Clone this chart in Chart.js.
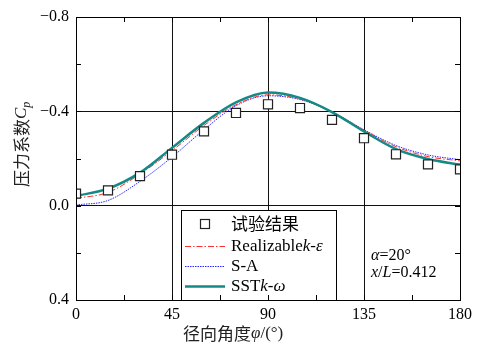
<!DOCTYPE html>
<html><head><meta charset="utf-8">
<script src="https://cdn.jsdelivr.net/npm/chart.js@4/dist/chart.umd.min.js"></script>
<style>html,body{margin:0;padding:0;background:#fff}#wrap{width:478px;height:345px}</style>
</head><body><div id="wrap"><canvas id="c" width="478" height="345"></canvas></div>
<script>
const angles = [0,15,30,45,60,75,90,105,120,135,150,165,180];
const expCp = [-0.051,-0.065,-0.125,-0.216,-0.315,-0.393,-0.430,-0.414,-0.364,-0.286,-0.218,-0.175,-0.154];
const sstCp = [-0.041,-0.072,-0.140,-0.245,-0.351,-0.438,-0.480,-0.457,-0.397,-0.315,-0.240,-0.198,-0.174];
const realizableCp = [-0.031,-0.056,-0.134,-0.233,-0.340,-0.428,-0.470,-0.452,-0.397,-0.320,-0.250,-0.208,-0.190];
const saCp = [-0.003,-0.022,-0.103,-0.206,-0.322,-0.424,-0.466,-0.450,-0.398,-0.322,-0.255,-0.215,-0.195];
const xTickLabels = [0,45,90,135,180];
const xMinorTicks = [22.5,67.5,112.5,157.5];
const yTickLabels = [-0.8,-0.4,0,0.4];
const yMinorTicks = [-0.6,-0.2,0.2];
const seriesNames = ['试验结果','SST','Realizable','S-A'];

const SERIF = '"Liberation Serif","Times New Roman",serif';
const CJK = '"Noto Sans CJK SC",sans-serif';
const pts = (ys) => angles.map((a,i)=>({x:a,y:ys[i]}));

function fmtY(v){
  if (Math.abs(v) < 1e-9) return '0.0';
  return (v<0?'\u2212':'') + Math.abs(v).toFixed(1);
}
function drawRich(ctx, parts, x, y){
  let cx = x;
  for (const p of parts){
    ctx.font = p.f;
    ctx.fillText(p.t, cx, y + (p.dy||0));
    cx += ctx.measureText(p.t).width + (p.sp||0);
  }
  return cx;
}

const deco = {
  id:'deco',
  afterDatasetsDraw(chart){
    const ctx = chart.ctx, a = chart.chartArea;
    const xs = chart.scales.x, ys = chart.scales.y;
    const ds = chart.data.datasets;
    ctx.save();
    // legend box
    const lx = 181, ly = 210, lw = 155, lh = a.bottom - 210;
    ctx.fillStyle = '#fff';
    ctx.fillRect(lx, ly, lw, lh);
    ctx.strokeStyle = '#000'; ctx.lineWidth = 1;
    ctx.strokeRect(lx+0.5, ly+0.5, lw, lh);
    ctx.textBaseline = 'middle'; ctx.fillStyle = '#000';
    // entry 1: square
    ctx.strokeStyle = ds[0].borderColor; ctx.lineWidth = 1.2;
    ctx.fillStyle = '#fff';
    ctx.fillRect(200.5, 219.5, 9, 9); ctx.strokeRect(200.5, 219.5, 9, 9);
    ctx.fillStyle = '#000';
    ctx.font = '17px ' + CJK;
    ctx.fillText(seriesNames[0], 231, 224);
    const rows = [[2,246.5],[3,266.5],[1,286.5]];
    for (const [i,y] of rows){
      ctx.strokeStyle = ds[i].borderColor; ctx.lineWidth = ds[i].borderWidth;
      ctx.setLineDash(ds[i].borderDash || []);
      ctx.beginPath(); ctx.moveTo(185, y); ctx.lineTo(225, y); ctx.stroke();
    }
    ctx.setLineDash([]);
    ctx.fillStyle = '#000';
    const nf = '17px ' + SERIF, itf = 'italic 17px ' + SERIF;
    drawRich(ctx, [{t:'Realizable',f:nf},{t:'k-\u03b5',f:itf}], 231, 247);
    drawRich(ctx, [{t:'S-A',f:nf}], 231, 267);
    drawRich(ctx, [{t:'SST',f:nf},{t:'k-\u03c9',f:itf}], 231, 287);
    // annotation
    const af = '16px ' + SERIF, aif = 'italic 16px ' + SERIF;
    drawRich(ctx, [{t:'\u03b1',f:aif},{t:'=20\u00b0',f:af}], 371, 256);
    drawRich(ctx, [{t:'x',f:aif},{t:'/',f:af},{t:'L',f:aif},{t:'=0.412',f:af}], 371, 273);
    // ticks inward
    ctx.strokeStyle = '#000'; ctx.lineWidth = 1;
    ctx.beginPath();
    for (const v of xMinorTicks.concat(xTickLabels)){
      const px = Math.round(xs.getPixelForValue(v)) + 0.5;
      ctx.moveTo(px, a.bottom); ctx.lineTo(px, a.bottom - 5);
      ctx.moveTo(px, a.top); ctx.lineTo(px, a.top + 5);
    }
    for (const v of yMinorTicks.concat(yTickLabels)){
      const py = Math.round(ys.getPixelForValue(v)) + 0.5;
      ctx.moveTo(a.left, py); ctx.lineTo(a.left + 5, py);
      ctx.moveTo(a.right, py); ctx.lineTo(a.right - 5, py);
    }
    ctx.stroke();
    ctx.strokeRect(Math.round(a.left)+0.5, Math.round(a.top)+0.5, Math.round(a.right-a.left), Math.round(a.bottom-a.top));
    // axis titles
    ctx.fillStyle = '#222';
    ctx.textBaseline = 'middle';
    ctx.save();
    ctx.translate(22, 187);
    ctx.rotate(-Math.PI/2);
    const e = drawRich(ctx, [{t:'压力系数',f:'17px '+CJK},{t:'C',f:'italic 17px '+SERIF}], 0, 0);
    ctx.font = 'italic 12px ' + SERIF; ctx.fillText('p', e, 5);
    ctx.restore();
    drawRich(ctx, [{t:'径向角度',f:'17px '+CJK},{t:'\u03c6',f:'italic 17px '+SERIF},{t:'/(\u00b0)',f:'17px '+SERIF}], 183, 334);
    ctx.restore();
  }
};

new Chart(document.getElementById('c'), {
  type:'line',
  data:{datasets:[
    {label:seriesNames[0], data:pts(expCp), showLine:false, pointStyle:'rect', pointRadius:6.4, pointBorderWidth:1.2,
     borderColor:'#222', pointBackgroundColor:'#fff', backgroundColor:'#fff'},
    {label:seriesNames[1], data:pts(sstCp), borderColor:'#138a86', borderWidth:2.5, pointRadius:0, cubicInterpolationMode:'monotone'},
    {label:seriesNames[2], data:pts(realizableCp), borderColor:'#ff3030', borderWidth:1, borderDash:[6,2,1.5,2], pointRadius:0, cubicInterpolationMode:'monotone'},
    {label:seriesNames[3], data:pts(saCp), borderColor:'#2a2aff', borderWidth:1, borderDash:[1.5,1], pointRadius:0, cubicInterpolationMode:'monotone'}
  ]},
  options:{
    responsive:false, animation:false, devicePixelRatio:1,
    layout:{padding:{left:0,top:17,right:18,bottom:0}},
    plugins:{legend:{display:false}, tooltip:{enabled:false}},
    scales:{
      x:{type:'linear', min:0, max:180,
        afterBuildTicks:(s)=>{ s.ticks = xTickLabels.map(v=>({value:v})); },
        afterFit:(s)=>{ s.height = 45; },
        ticks:{autoSkip:false, maxRotation:0, padding:5, color:'#000', font:{family:SERIF, size:16}, callback:(v)=>String(v)},
        grid:{drawTicks:false, color:(c)=>[45,90,135].includes(c.tick.value)?'#111':'rgba(0,0,0,0)', lineWidth:1},
        border:{display:true, color:'#000'}
      },
      y:{type:'linear', reverse:true, min:-0.8, max:0.4,
        afterBuildTicks:(s)=>{ s.ticks = yTickLabels.map(v=>({value:v})); },
        afterFit:(s)=>{ s.width = 76; },
        ticks:{autoSkip:false, padding:7, color:'#000', font:{family:SERIF, size:16}, callback:(v)=>fmtY(v)},
        grid:{drawTicks:false, color:(c)=>(Math.abs(c.tick.value+0.4)<1e-6||Math.abs(c.tick.value)<1e-6)?'#111':'rgba(0,0,0,0)', lineWidth:1},
        border:{display:true, color:'#000'}
      }
    }
  },
  plugins:[deco]
});
</script></body></html>
